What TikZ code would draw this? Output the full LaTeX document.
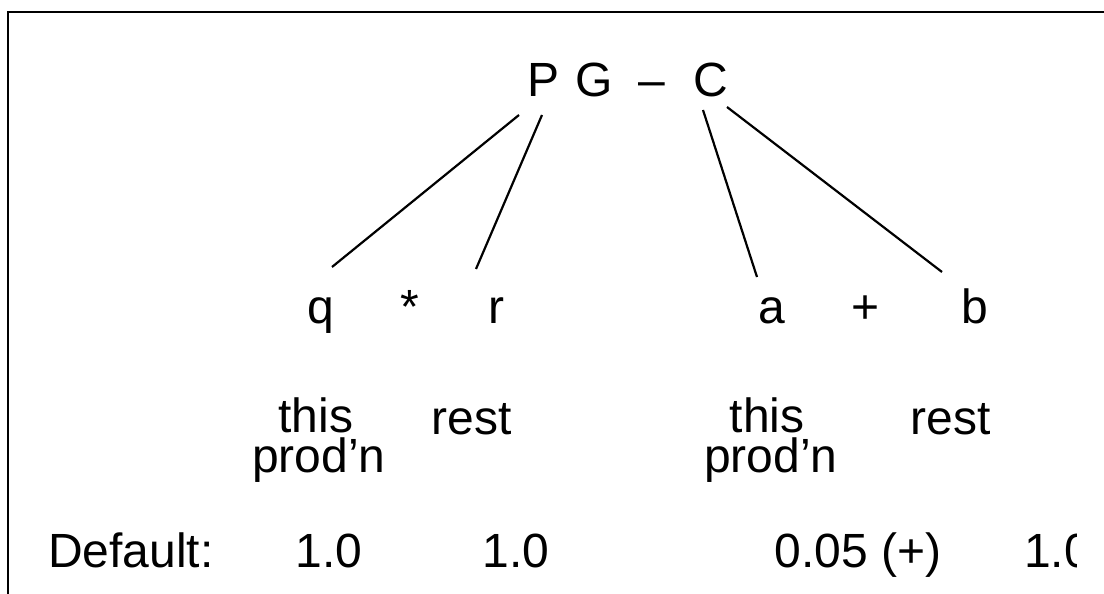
\documentclass[tikz,border=0pt]{standalone}
\usepackage{fontspec}
\setmainfont{Liberation Sans}
\begin{document}
\begin{tikzpicture}[x=1pt,y=-1pt,
  lbl/.style={inner sep=0pt, anchor=base, font=\fontsize{48}{38}\selectfont},
  conn/.style={line width=2.2pt},
  frame/.style={line width=2.4pt, line join=miter}]
\useasboundingbox (0,0) rectangle (1104,594);
% frame
\draw[frame] (8,594) -- (8,12) -- (1104,12);
% top label
\node[lbl] (P) at (544,97) {P};
\node[lbl] (G) at (594,97) {G};
\node[lbl] (dash) at (652,97) {–};
\node[lbl] (C) at (711,97) {C};
% second row
\node[lbl] (q) at (321,323) {q};
\node[lbl] (times) at (410,323) {*};
\node[lbl] (r) at (496,323) {r};
\node[lbl] (a) at (772,323) {a};
\node[lbl] (plus) at (866,323) {+};
\node[lbl] (b) at (975,323) {b};
% descriptions
\node[lbl] (this1) at (316,432) {this};
\node[lbl] (prod1) at (319,472) {prod’n};
\node[lbl] (rest1) at (472,434) {rest};
\node[lbl] (this2) at (767,432) {this};
\node[lbl] (prod2) at (771,472) {prod’n};
\node[lbl] (rest2) at (951,434) {rest};
% defaults
\node[lbl, anchor=base west] (def) at (48,567) {Default:};
\node[lbl] (d1) at (329,567) {1.0};
\node[lbl] (d2) at (516,567) {1.0};
\node[lbl] (d3) at (858,567) {0.05 (+)};
\begin{scope}
  \clip (0,0) rectangle (1076,594);
  \node[lbl, anchor=base west] (d4) at (1024,567) {1.0};
\end{scope}
% connector ends
\coordinate (Pl) at (519,115);
\coordinate (Pr) at (542,115);
\coordinate (Cl) at (703,110);
\coordinate (Cr) at (727,107);
\coordinate (qt) at (332,267);
\coordinate (rt) at (476,269);
\coordinate (at) at (757,277);
\coordinate (bt) at (942,272);
\draw[conn] (Pl) -- (qt);
\draw[conn] (Pr) -- (rt);
\draw[conn] (Cl) -- (at);
\draw[conn] (Cr) -- (bt);
\end{tikzpicture}
\end{document}
